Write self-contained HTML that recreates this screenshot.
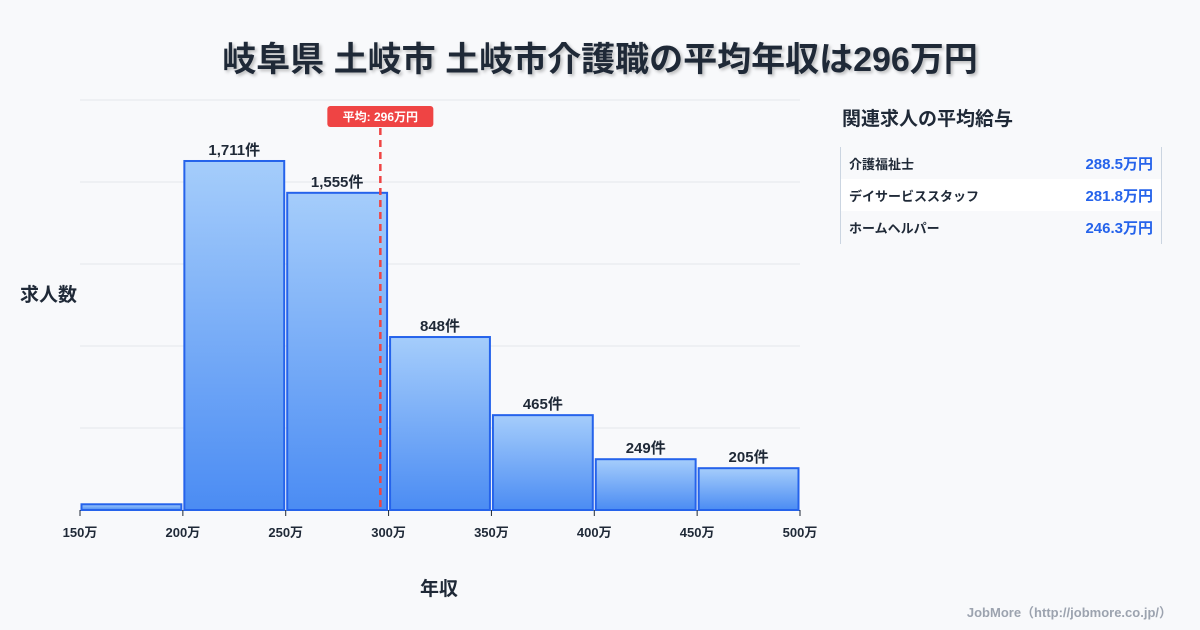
<!DOCTYPE html>
<html><head><meta charset="utf-8"><style>
body{margin:0;width:1200px;height:630px;background:#f8f9fb;font-family:"Liberation Sans","Noto Sans CJK JP",sans-serif;overflow:hidden;position:relative}
.t{position:absolute;color:#1f2937;font-weight:bold}
</style></head><body>
<div class="t" style="left:0;width:1200px;top:32px;text-align:center;font-size:34px;text-shadow:2px 2px 3px rgba(0,0,0,0.25)">岐阜県 土岐市 土岐市介護職の平均年収は296万円</div>
<div class="t" style="left:20px;top:280px;font-size:19px">求人数</div>
<div class="t" style="left:420px;top:574px;font-size:19px">年収</div>
<svg id="chart" width="1200" height="630" style="position:absolute;left:0;top:0"></svg>
<div class="t" style="left:842px;top:104px;font-size:19px">関連求人の平均給与</div>
<div style="position:absolute;left:840px;top:147px;width:320px;height:97px;border-left:1px solid #cbd5e1;border-right:1px solid #cbd5e1">
 <div style="height:32px;display:flex;justify-content:space-between;align-items:center;padding:0 8px;font-size:13px;font-weight:bold;color:#1f2937">介護福祉士<span style="color:#2563eb;font-size:15px">288.5万円</span></div>
 <div style="height:32px;background:#fff;display:flex;justify-content:space-between;align-items:center;padding:0 8px;font-size:13px;font-weight:bold;color:#1f2937">デイサービススタッフ<span style="color:#2563eb;font-size:15px">281.8万円</span></div>
 <div style="height:32px;display:flex;justify-content:space-between;align-items:center;padding:0 8px;font-size:13px;font-weight:bold;color:#1f2937">ホームヘルパー<span style="color:#2563eb;font-size:15px">246.3万円</span></div>
</div>
<div style="position:absolute;right:28px;top:602px;font-size:13px;font-weight:bold;color:#9ca3af">JobMore（http://jobmore.co.jp/）</div>
<script>
const binStarts=[150,200,250,300,350,400,450];
const counts=[28,1711,1555,848,465,249,205];
const labels=["","1,711件","1,555件","848件","465件","249件","205件"];
const xTicks=[150,200,250,300,350,400,450,500];
const avg=296;
const NS="http://www.w3.org/2000/svg";
const svg=document.getElementById('chart');
const x=v=>80+(v-150)*720/350;
const y=v=>510-v*410/2010;
function el(t,a){const e=document.createElementNS(NS,t);for(const k in a)e.setAttribute(k,a[k]);svg.appendChild(e);return e;}
const defs=el('defs',{});
defs.innerHTML='<linearGradient id="g" x1="0" y1="0" x2="0" y2="1"><stop offset="0" stop-color="#a5cdfb"/><stop offset="1" stop-color="#4b8cf3"/></linearGradient>';
for(let i=0;i<=5;i++){const g=el('line',{x1:80,x2:800,y1:510-i*82,y2:510-i*82,stroke:'#e5e7eb','stroke-width':1});
}
binStarts.forEach((b,i)=>{
 const r=el('rect',{x:x(b)+1.5,y:y(counts[i]),width:x(b+50)-x(b)-3,height:510-y(counts[i]),fill:'url(#g)',stroke:'#2563eb','stroke-width':2});
 
 if(labels[i]){const t=el('text',{x:(x(b)+x(b+50))/2,y:y(counts[i])-6,'text-anchor':'middle','font-size':15,'font-weight':'bold',fill:'#1f2937'});t.textContent=labels[i];
 }
});
xTicks.forEach(v=>{const l=el('line',{x1:x(v),x2:x(v),y1:510,y2:516,stroke:'#1f2937','stroke-width':1});

const t=el('text',{x:x(v),y:537,'text-anchor':'middle','font-size':13,'font-weight':'bold',fill:'#1f2937'});t.textContent=v+'万';
});
const ax=x(avg);
const al=el('line',{x1:ax,x2:ax,y1:128,y2:510,stroke:'#ef4444','stroke-width':2.5,'stroke-dasharray':'7,5'});

const ab=el('rect',{x:ax-53,y:106,width:106,height:21,rx:3,fill:'#ef4444'});

const at=el('text',{x:ax,y:121,'text-anchor':'middle','font-size':12,'font-weight':'bold',fill:'#fff'});at.textContent='平均: '+avg+'万円';

</script>
</body></html>
